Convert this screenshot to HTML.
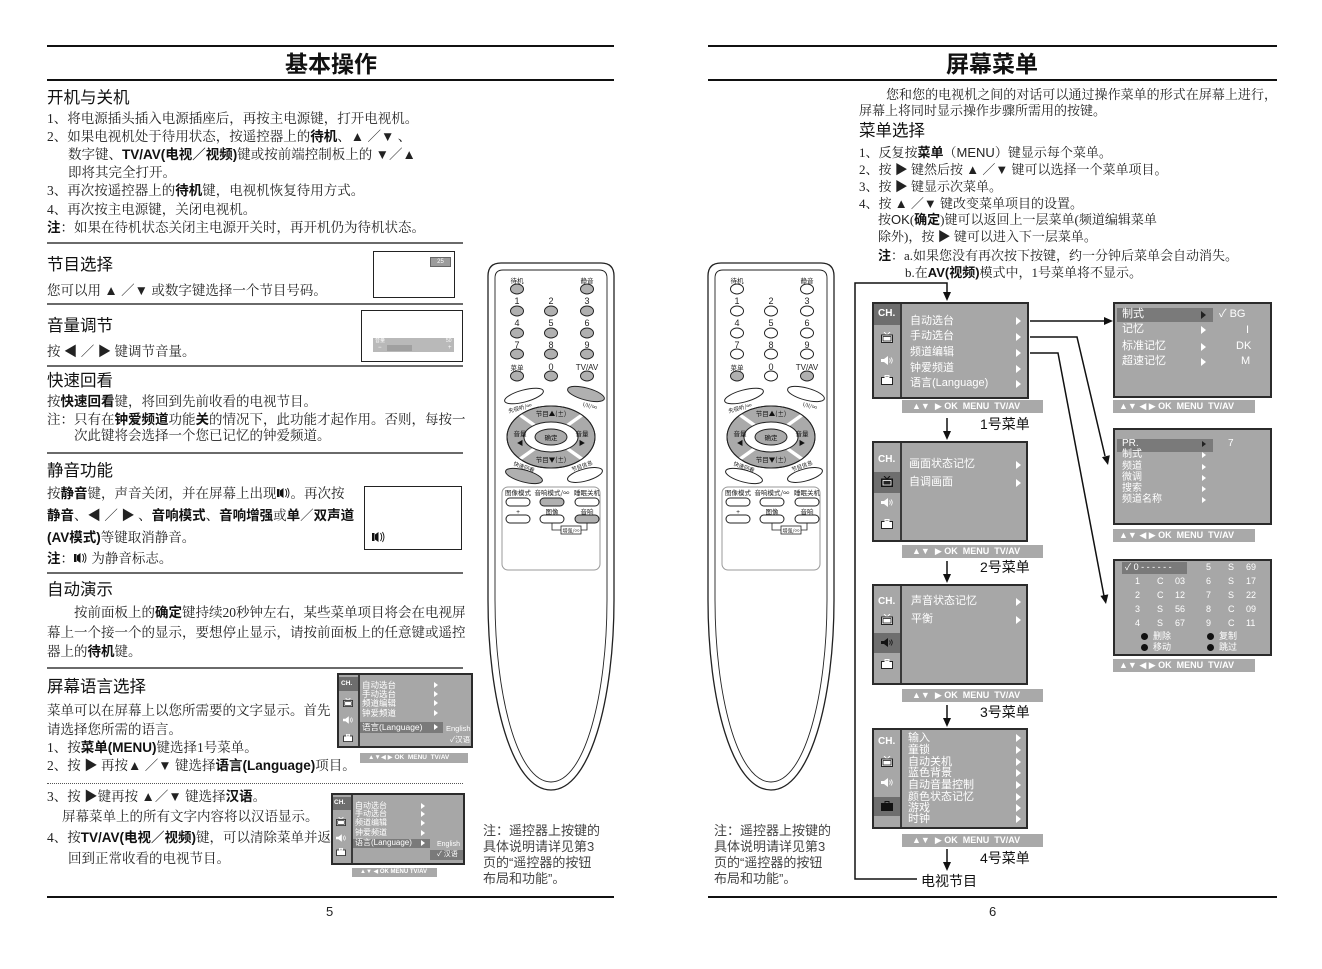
<!DOCTYPE html>
<html><head><meta charset="utf-8">
<style>
*{margin:0;padding:0}
body{width:1322px;height:969px;background:#fff;position:relative;overflow:hidden}
.a{position:absolute}
.s{position:absolute;white-space:nowrap;font-family:"Liberation Serif","Noto Serif CJK SC",serif;font-size:13.5px;line-height:16px;color:#222}
.r{font-size:13px}
.s b{font-family:"Liberation Sans","Noto Sans CJK SC",sans-serif;font-weight:bold;color:#111}
.ss{font-family:"Liberation Sans","Noto Sans CJK SC",sans-serif}
.h{position:absolute;white-space:nowrap;font-family:"Liberation Sans","Noto Sans CJK SC",sans-serif;font-size:16.5px;line-height:20px;color:#111}
.ti{position:absolute;white-space:nowrap;font-family:"Liberation Sans","Noto Sans CJK SC",sans-serif;font-size:23px;font-weight:bold;line-height:26px;color:#111}
.rule{position:absolute;height:2px;background:#111}
.sep{position:absolute;left:47px;width:416px;height:2px;background:#6a6a6a}
.j{text-align:justify;text-align-last:justify}
.nt{position:absolute;white-space:nowrap;font-family:"Liberation Sans","Noto Sans CJK SC",sans-serif;font-size:13px;line-height:16px;color:#444}
.mb{position:absolute;background:#a7a7a7;border:2px solid #2b2b2b;box-sizing:border-box}
.vl{position:absolute;width:2px;background:#3a3a3a}
.hl{position:absolute;background:#6e6e6e}
.hb{position:absolute;background:#7a7a7a}
.mt{position:absolute;color:#fff;font-family:"Liberation Sans","Noto Sans CJK SC",sans-serif;white-space:nowrap;line-height:1}
.ar{position:absolute;width:0;height:0;border-left:5px solid #fff;border-top:4px solid transparent;border-bottom:4px solid transparent}
.ar2{position:absolute;width:0;height:0;border-left:4px solid #fff;border-top:3px solid transparent;border-bottom:3px solid transparent}
.ft{position:absolute;background:#a9a9a9;color:#fff;font-family:"Liberation Sans","DejaVu Sans",sans-serif;font-weight:bold;white-space:nowrap;text-align:left}
.ch{position:absolute;color:#fff;font-family:"Liberation Sans",sans-serif;font-weight:bold;line-height:1}
.lbl{position:absolute;white-space:nowrap;font-family:"Liberation Sans","Noto Sans CJK SC",sans-serif;font-size:14px;line-height:16px;color:#111}
</style></head><body>

<!-- ================= LEFT PAGE ================= -->
<div class="rule" style="left:47px;top:45px;width:567px"></div>
<div class="ti" style="left:285px;top:51px">基本操作</div>
<div class="rule" style="left:47px;top:79px;width:567px"></div>

<div class="h" style="left:47px;top:88px">开机与关机</div>
<div class="s" style="left:47px;top:111px">1、将电源插头插入电源插座后，再按主电源键，打开电视机。</div>
<div class="s" style="left:47px;top:129px">2、如果电视机处于待用状态，按遥控器上的<b>待机</b>、▲ ／▼ 、</div>
<div class="s" style="left:68px;top:147px">数字键、<b>TV/AV(电视／视频)</b>键或按前端控制板上的 ▼／▲</div>
<div class="s" style="left:68px;top:165px">即将其完全打开。</div>
<div class="s" style="left:47px;top:183px">3、再次按遥控器上的<b>待机</b>键，电视机恢复待用方式。</div>
<div class="s" style="left:47px;top:202px">4、再次按主电源键，关闭电视机。</div>
<div class="s" style="left:47px;top:220px"><b>注</b>：如果在待机状态关闭主电源开关时，再开机仍为待机状态。</div>
<div class="sep" style="top:242px"></div>

<div class="h" style="left:47px;top:255px">节目选择</div>
<div class="s" style="left:47px;top:283px">您可以用 ▲ ／▼ 或数字键选择一个节目号码。</div>
<div class="a" style="left:373px;top:251px;width:80px;height:45px;border:1px solid #222"></div>
<div class="a" style="left:430px;top:257px;width:19px;height:8px;background:#9c9c9c;border:1px solid #666;color:#fff;font:6px 'Liberation Sans';text-align:center;line-height:8px">25</div>
<div class="sep" style="top:303px"></div>

<div class="h" style="left:47px;top:316px">音量调节</div>
<div class="s" style="left:47px;top:344px">按 ◀ ／ ▶ 键调节音量。</div>
<div class="a" style="left:361px;top:310px;width:100px;height:50px;border:1px solid #222"></div>
<div class="a" style="left:373px;top:338px;width:81px;height:14px;background:#b9b9b9"></div>
<div class="a" style="left:387px;top:345px;width:25px;height:6px;background:#a0a0a0"></div>
<div class="mt" style="left:375px;top:339px;font-size:5px">音量</div>
<div class="mt" style="left:446px;top:339px;font-size:5px">50</div>
<div class="mt" style="left:378px;top:345px;font-size:6px">−</div>
<div class="mt" style="left:448px;top:345px;font-size:6px">+</div>
<div class="sep" style="top:365px"></div>

<div class="h" style="left:47px;top:371px">快速回看</div>
<div class="s" style="left:47px;top:394px">按<b>快速回看</b>键，将回到先前收看的电视节目。</div>
<div class="s j" style="left:47px;top:412px;width:415px">注：只有在<b>钟爱频道</b>功能<b>关</b>的情况下，此功能才起作用。否则，每按一</div>
<div class="s" style="left:74px;top:428px">次此键将会选择一个您已记忆的钟爱频道。</div>
<div class="sep" style="top:452px"></div>

<div class="h" style="left:47px;top:461px">静音功能</div>
<div class="s" style="left:47px;top:486px">按<b>静音</b>键，声音关闭，并在屏幕上出现<svg width="14" height="12" viewBox="0 0 14 12" style="vertical-align:-1px"><rect x="0" y="2" width="2.5" height="8" fill="#111"/><path d="M3 3.5 L6.5 1 L6.5 11 L3 8.5Z" fill="#111"/><path d="M8.5 2 Q11 6 8.5 10 M10.5 1 Q13.5 6 10.5 11" stroke="#111" fill="none" stroke-width="0.9"/></svg>。再次按</div>
<div class="s" style="left:47px;top:508px"><b>静音</b>、◀ ／ ▶ 、<b>音响模式</b>、<b>音响增强</b>或<b>单</b>／<b>双声道</b></div>
<div class="s" style="left:47px;top:530px"><b>(AV模式)</b>等键取消静音。</div>
<div class="s" style="left:47px;top:551px"><b>注</b>：<svg width="14" height="12" viewBox="0 0 14 12" style="vertical-align:-1px"><rect x="0" y="2" width="2.5" height="8" fill="#111"/><path d="M3 3.5 L6.5 1 L6.5 11 L3 8.5Z" fill="#111"/><path d="M8.5 2 Q11 6 8.5 10 M10.5 1 Q13.5 6 10.5 11" stroke="#111" fill="none" stroke-width="0.9"/></svg> 为静音标志。</div>
<div class="a" style="left:364px;top:486px;width:96px;height:62px;border:1px solid #222"></div>
<svg class="a" style="left:372px;top:531px" width="14" height="12" viewBox="0 0 14 12"><rect x="0" y="2" width="2.5" height="8" fill="#111"/><path d="M3 3.5 L6.5 1 L6.5 11 L3 8.5Z" fill="#111"/><path d="M8.5 2 Q11 6 8.5 10 M10.5 1 Q13.5 6 10.5 11" stroke="#111" fill="none" stroke-width="0.9"/></svg>
<div class="sep" style="top:572px"></div>

<div class="h" style="left:47px;top:580px">自动演示</div>
<div class="s j" style="left:74px;top:605px;width:388px">按前面板上的<b>确定</b>键持续20秒钟左右，某些菜单项目将会在电视屏</div>
<div class="s j" style="left:47px;top:625px;width:415px">幕上一个接一个的显示，要想停止显示，请按前面板上的任意键或遥控</div>
<div class="s" style="left:47px;top:644px">器上的<b>待机</b>键。</div>
<div class="sep" style="top:667px"></div>

<div class="h" style="left:47px;top:677px">屏幕语言选择</div>
<div class="s" style="left:47px;top:703px">菜单可以在屏幕上以您所需要的文字显示。首先</div>
<div class="s" style="left:47px;top:722px">请选择您所需的语言。</div>
<div class="s" style="left:47px;top:740px">1、按<b>菜单(MENU)</b>键选择1号菜单。</div>
<div class="s" style="left:47px;top:758px">2、按 ▶ 再按▲ ／▼ 键选择<b>语言(Language)</b>项目。</div>
<div class="a" style="left:47px;top:783px;width:416px;border-top:1px dotted #555"></div>
<div class="s" style="left:47px;top:789px">3、按 ▶键再按 ▲／▼ 键选择<b>汉语</b>。</div>
<div class="s" style="left:62px;top:809px">屏幕菜单上的所有文字内容将以汉语显示。</div>
<div class="s" style="left:47px;top:830px">4、按<b>TV/AV(电视／视频)</b>键，可以清除菜单并返</div>
<div class="s" style="left:68px;top:851px">回到正常收看的电视节目。</div>

<!-- mini menu L1 -->
<div class="mb" style="left:337px;top:673px;width:136px;height:75px"></div>
<div class="hl" style="left:339px;top:677px;width:19px;height:14px"></div>
<div class="vl" style="left:358px;top:675px;height:71px"></div>
<div class="ch" style="left:341px;top:681px;font-size:6.5px">CH.</div>
<svg class="a" style="left:343px;top:698px" width="10" height="9" viewBox="0 0 12 11"><path d="M3 0 L6 3 L9 0" stroke="#fff" fill="none"/><rect x="0.5" y="3" width="11" height="7.5" fill="#fff" stroke="#222"/><rect x="2" y="4.5" width="8" height="4.5" fill="none" stroke="#222" stroke-width="0.8"/></svg>
<svg class="a" style="left:343px;top:716px" width="10" height="8" viewBox="0 0 12 9"><path d="M0 3h3l4-3v9l-4-3H0z" fill="#fff"/><path d="M8.5 2.5q1.5 2 0 4M10 1.5q2.5 3 0 6" stroke="#fff" fill="none" stroke-width="0.8"/></svg>
<svg class="a" style="left:343px;top:734px" width="10" height="8" viewBox="0 0 12 10"><rect x="0.5" y="2.5" width="11" height="7" fill="#fff" stroke="#222"/><rect x="4" y="0.5" width="4" height="2" fill="none" stroke="#fff"/></svg>
<div class="hb" style="left:360px;top:722px;width:83px;height:11px"></div>
<div class="mt" style="left:362px;top:681px;font-size:8.5px">自动选台</div>
<div class="mt" style="left:362px;top:690px;font-size:8.5px">手动选台</div>
<div class="mt" style="left:362px;top:699px;font-size:8.5px">频道编辑</div>
<div class="mt" style="left:362px;top:709px;font-size:8.5px">钟爱频道</div>
<div class="mt" style="left:362px;top:723px;font-size:8.5px">语言(Language)</div>
<div class="ar2" style="left:434px;top:682px"></div>
<div class="ar2" style="left:434px;top:691px"></div>
<div class="ar2" style="left:434px;top:700px"></div>
<div class="ar2" style="left:434px;top:710px"></div>
<div class="ar2" style="left:434px;top:724px"></div>
<div class="mt" style="left:446px;top:725px;font-size:7.5px">English</div>
<div class="mt" style="left:450px;top:736px;font-size:7.5px">✓汉语</div>
<div class="ft" style="left:360px;top:753px;width:108px;height:10px;font-size:6.5px;line-height:10px;padding-left:8px;box-sizing:border-box">▲▼◀ ▶ OK &nbsp;MENU &nbsp;TV/AV</div>

<!-- mini menu L2 -->
<div class="mb" style="left:331px;top:793px;width:134px;height:72px"></div>
<div class="hl" style="left:333px;top:797px;width:18px;height:13px"></div>
<div class="vl" style="left:351px;top:795px;height:68px"></div>
<div class="ch" style="left:334px;top:800px;font-size:6.5px">CH.</div>
<svg class="a" style="left:336px;top:817px" width="10" height="9" viewBox="0 0 12 11"><path d="M3 0 L6 3 L9 0" stroke="#fff" fill="none"/><rect x="0.5" y="3" width="11" height="7.5" fill="#fff" stroke="#222"/><rect x="2" y="4.5" width="8" height="4.5" fill="none" stroke="#222" stroke-width="0.8"/></svg>
<svg class="a" style="left:336px;top:834px" width="10" height="8" viewBox="0 0 12 9"><path d="M0 3h3l4-3v9l-4-3H0z" fill="#fff"/><path d="M8.5 2.5q1.5 2 0 4M10 1.5q2.5 3 0 6" stroke="#fff" fill="none" stroke-width="0.8"/></svg>
<svg class="a" style="left:336px;top:848px" width="10" height="8" viewBox="0 0 12 10"><rect x="0.5" y="2.5" width="11" height="7" fill="#fff" stroke="#222"/><rect x="4" y="0.5" width="4" height="2" fill="none" stroke="#fff"/></svg>
<div class="hb" style="left:353px;top:839px;width:77px;height:9px"></div>
<div class="mt" style="left:355px;top:802px;font-size:8px">自动选台</div>
<div class="mt" style="left:355px;top:810px;font-size:8px">手动选台</div>
<div class="mt" style="left:355px;top:819px;font-size:8px">频道编辑</div>
<div class="mt" style="left:355px;top:829px;font-size:8px">钟爱频道</div>
<div class="mt" style="left:355px;top:839px;font-size:8px">语言(Language)</div>
<div class="ar2" style="left:421px;top:803px"></div>
<div class="ar2" style="left:421px;top:811px"></div>
<div class="ar2" style="left:421px;top:820px"></div>
<div class="ar2" style="left:421px;top:830px"></div>
<div class="ar2" style="left:421px;top:840px"></div>
<div class="mt" style="left:437px;top:841px;font-size:7px">English</div>
<div class="hb" style="left:430px;top:850px;width:33px;height:10px"></div>
<div class="mt" style="left:437px;top:851px;font-size:7px">✓ 汉语</div>
<div class="ft" style="left:352px;top:868px;width:85px;height:9px;font-size:6px;line-height:9px;padding-left:8px;box-sizing:border-box">▲▼ ◀ OK MENU TV/AV</div>

<div class="nt" style="left:483px;top:823px">注：遥控器上按键的</div>
<div class="nt" style="left:483px;top:839px">具体说明请详见第3</div>
<div class="nt" style="left:483px;top:855px">页的“遥控器的按钮</div>
<div class="nt" style="left:483px;top:871px">布局和功能”。</div>

<div class="rule" style="left:47px;top:896px;width:567px"></div>
<div class="a" style="left:326px;top:904px;font:13px 'Liberation Sans',sans-serif;color:#222">5</div>

<!-- ================= RIGHT PAGE ================= -->
<div class="rule" style="left:708px;top:45px;width:569px"></div>
<div class="ti" style="left:946px;top:51px">屏幕菜单</div>
<div class="rule" style="left:708px;top:79px;width:569px"></div>

<div class="s r j" style="left:886px;top:87px;width:391px">您和您的电视机之间的对话可以通过操作菜单的形式在屏幕上进行，</div>
<div class="s r" style="left:859px;top:103px">屏幕上将同时显示操作步骤所需用的按键。</div>
<div class="h" style="left:859px;top:121px">菜单选择</div>
<div class="s r" style="left:859px;top:145px">1、反复按<b>菜单</b>（<span class="ss">MENU</span>）键显示每个菜单。</div>
<div class="s r" style="left:859px;top:162px">2、按 ▶ 键然后按 ▲ ／▼ 键可以选择一个菜单项目。</div>
<div class="s r" style="left:859px;top:179px">3、按 ▶ 键显示次菜单。</div>
<div class="s r" style="left:859px;top:196px">4、按 ▲ ／▼ 键改变菜单项目的设置。</div>
<div class="s r" style="left:878px;top:212px">按<span class="ss">OK</span>(<b>确定</b>)键可以返回上一层菜单(频道编辑菜单</div>
<div class="s r" style="left:878px;top:229px">除外)，按 ▶ 键可以进入下一层菜单。</div>
<div class="s r" style="left:878px;top:248px"><b>注</b>：a.如果您没有再次按下按键，约一分钟后菜单会自动消失。</div>
<div class="s r" style="left:905px;top:265px">b.在<b>AV(视频)</b>模式中，1号菜单将不显示。</div>

<!-- SVG: remotes + connectors -->
<svg class="a" style="left:0;top:0" width="1322" height="969" viewBox="0 0 1322 969">
<defs>
<g id="remBase">
 <path d="M488 276 Q488 263 501 263 L601 263 Q614 263 614 276 L614 600 C614 700 590 790 551 790 C512 790 488 700 488 600 Z" fill="#fff" stroke="#222" stroke-width="1.3"/>
 <path d="M495 278 Q495 270 503 270 L599 270 Q607 270 607 278 L607 600 C607 694 585 782 551 782 C517 782 495 694 495 600 Z" fill="none" stroke="#222" stroke-width="0.9"/>
 <rect x="502" y="487" width="98" height="83" rx="6" fill="none" stroke="#999" stroke-width="1"/>
 <g font-family="Noto Sans CJK SC, sans-serif" font-size="6.5" text-anchor="middle" fill="#222">
  <text x="517" y="283">待机</text><text x="587" y="283">静音</text>
  <text x="517" y="370">菜单</text>
  <text x="518" y="495">图像模式</text><text x="552" y="495">音响模式/∞</text><text x="587" y="495">睡眠关机</text>
  <text x="518" y="514">+</text><text x="552" y="514">图像</text><text x="587" y="514">音响</text>
 </g>
 <g font-family="Liberation Sans, sans-serif" font-size="9" text-anchor="middle" fill="#222">
  <text x="517" y="304">1</text><text x="551" y="304">2</text><text x="587" y="304">3</text>
  <text x="517" y="326">4</text><text x="551" y="326">5</text><text x="587" y="326">6</text>
  <text x="517" y="348">7</text><text x="551" y="348">8</text><text x="587" y="348">9</text>
  <text x="551" y="370">0</text><text x="587" y="370" font-size="8">TV/AV</text>
 </g>
 <!-- nav -->
 <ellipse cx="551" cy="437" rx="44" ry="31" fill="#aaa" stroke="#222" stroke-width="1"/>
 <g stroke="#fff" stroke-width="3.5">
  <line x1="551" y1="437" x2="520" y2="415"/><line x1="551" y1="437" x2="582" y2="415"/>
  <line x1="551" y1="437" x2="520" y2="459"/><line x1="551" y1="437" x2="582" y2="459"/>
 </g>
 <ellipse cx="551" cy="437" rx="44" ry="31" fill="none" stroke="#222" stroke-width="1"/>
 <ellipse cx="551" cy="437" rx="27" ry="15" fill="#fff" stroke="#222" stroke-width="1"/>
 <ellipse cx="551" cy="437" rx="16" ry="8" fill="#aaa" stroke="#222" stroke-width="1"/>
 <g font-family="Noto Sans CJK SC, sans-serif" font-size="6.5" text-anchor="middle" fill="#111">
  <text x="551" y="416">节目▲(±)</text>
  <text x="551" y="440">确定</text>
  <text x="551" y="462">节目▼(±)</text>
  <text x="520" y="436">音量</text><text x="520" y="445">◀</text>
  <text x="582" y="436">音量</text><text x="582" y="445">▶</text>
 </g>
 <g font-family="Noto Sans CJK SC, sans-serif" font-size="5.5" text-anchor="middle" fill="#222">
  <text x="520" y="410" transform="rotate(-15 520 408)">先视听/∞</text>
  <text x="590" y="408" transform="rotate(15 590 406)">I/II/∞</text>
  <text x="524" y="469" transform="rotate(20 524 467)">快速回看</text>
  <text x="582" y="468" transform="rotate(-20 582 466)">节目信息</text>
 </g>
 <path d="M552 523 V530 H587 V523" fill="none" stroke="#222" stroke-width="0.8"/>
 <rect x="561" y="526" width="20" height="8" fill="#fff" stroke="#222" stroke-width="0.8"/>
 <text x="571" y="532.5" font-family="Noto Sans CJK SC, sans-serif" font-size="5" text-anchor="middle" fill="#222">增强/∞</text>
</g>
</defs>

<!-- left remote -->
<use href="#remBase"/>
<g fill="#b0b0b0" stroke="#222" stroke-width="1">
 <ellipse cx="517" cy="289" rx="6.5" ry="5"/><ellipse cx="587" cy="289" rx="6.5" ry="5"/>
 <ellipse cx="517" cy="311" rx="6.5" ry="5"/><ellipse cx="551" cy="311" rx="6.5" ry="5"/><ellipse cx="587" cy="311" rx="6.5" ry="5"/>
 <ellipse cx="517" cy="333" rx="6.5" ry="5"/><ellipse cx="551" cy="333" rx="6.5" ry="5"/><ellipse cx="587" cy="333" rx="6.5" ry="5"/>
 <ellipse cx="517" cy="354" rx="6.5" ry="5"/><ellipse cx="551" cy="354" rx="6.5" ry="5"/><ellipse cx="587" cy="354" rx="6.5" ry="5"/>
 <ellipse cx="517" cy="376" rx="6.5" ry="5"/><ellipse cx="551" cy="376" rx="6.5" ry="5"/><ellipse cx="587" cy="376" rx="6.5" ry="5"/>
 <ellipse cx="586" cy="394" rx="19" ry="6" transform="rotate(15 586 394)"/>
 <ellipse cx="524" cy="476" rx="19" ry="6" transform="rotate(15 524 476)"/>
 <rect x="540" y="498" width="24" height="8" rx="4"/>
 <rect x="575" y="515" width="24" height="8" rx="4"/>
</g>
<g fill="#fff" stroke="#222" stroke-width="1">
 <ellipse cx="524" cy="396" rx="20" ry="6" transform="rotate(-15 524 396)"/>
 <ellipse cx="585" cy="475" rx="18" ry="6" transform="rotate(-15 585 475)"/>
 <rect x="506" y="498" width="24" height="8" rx="4"/><rect x="575" y="498" width="24" height="8" rx="4"/>
 <rect x="506" y="515" width="24" height="8" rx="4"/><rect x="540" y="515" width="24" height="8" rx="4"/>
</g>

<!-- right remote -->
<g transform="translate(220,0)">
<use href="#remBase"/>
<g fill="#fff" stroke="#222" stroke-width="1">
 <ellipse cx="517" cy="289" rx="6.5" ry="5"/><ellipse cx="587" cy="289" rx="6.5" ry="5"/>
 <ellipse cx="517" cy="311" rx="6.5" ry="5"/><ellipse cx="551" cy="311" rx="6.5" ry="5"/><ellipse cx="587" cy="311" rx="6.5" ry="5"/>
 <ellipse cx="517" cy="333" rx="6.5" ry="5"/><ellipse cx="551" cy="333" rx="6.5" ry="5"/><ellipse cx="587" cy="333" rx="6.5" ry="5"/>
 <ellipse cx="517" cy="354" rx="6.5" ry="5"/><ellipse cx="551" cy="354" rx="6.5" ry="5"/><ellipse cx="587" cy="354" rx="6.5" ry="5"/>
 <ellipse cx="551" cy="376" rx="6.5" ry="5"/>
 <ellipse cx="524" cy="396" rx="20" ry="6" transform="rotate(-15 524 396)"/>
 <ellipse cx="586" cy="394" rx="19" ry="6" transform="rotate(15 586 394)"/>
 <ellipse cx="524" cy="476" rx="19" ry="6" transform="rotate(15 524 476)"/>
 <ellipse cx="585" cy="475" rx="18" ry="6" transform="rotate(-15 585 475)"/>
 <rect x="506" y="498" width="24" height="8" rx="4"/><rect x="540" y="498" width="24" height="8" rx="4"/><rect x="575" y="498" width="24" height="8" rx="4"/>
 <rect x="506" y="515" width="24" height="8" rx="4"/><rect x="540" y="515" width="24" height="8" rx="4"/><rect x="575" y="515" width="24" height="8" rx="4"/>
</g>
<g fill="#b0b0b0" stroke="#222" stroke-width="1">
 <ellipse cx="517" cy="376" rx="6.5" ry="5"/><ellipse cx="587" cy="376" rx="6.5" ry="5"/>
</g>
</g>

<!-- connectors right page -->
<g stroke="#111" stroke-width="1.5" fill="none">
 <path d="M917 879 L855 879 L855 283 L947 283 L947 293"/>
 <line x1="947" y1="418" x2="947" y2="432"/>
 <line x1="947" y1="561" x2="947" y2="575"/>
 <line x1="947" y1="705" x2="947" y2="719"/>
 <line x1="947" y1="849" x2="947" y2="863"/>
 <line x1="1030" y1="321" x2="1104" y2="321"/>
 <polyline points="1030,337 1077,337 1105,456"/>
 <polyline points="1030,353 1058,353 1104,596"/>
</g>
<g fill="#111">
 <polygon points="943,292 951,292 947,301"/>
 <polygon points="943,431 951,431 947,440"/>
 <polygon points="943,574 951,574 947,583"/>
 <polygon points="943,718 951,718 947,727"/>
 <polygon points="943,862 951,862 947,871"/>
 <polygon points="1104,317 1104,325 1113,321"/>
 <polygon points="1109.8,455.3 1102,457.1 1108,465"/>
 <polygon points="1108.3,594.4 1100.4,595.9 1106,604"/>
</g>
</svg>

<!-- Menu 1 -->
<div class="mb" style="left:872px;top:302px;width:157px;height:97px"></div>
<div class="hl" style="left:874px;top:304px;width:26px;height:21px"></div>
<div class="vl" style="left:900px;top:304px;height:93px"></div>
<div class="ch" style="left:878px;top:309px;font-size:10px">CH.</div>
<svg class="a" style="left:881px;top:332px" width="12" height="11" viewBox="0 0 12 11"><path d="M3 0 L6 3 L9 0" stroke="#fff" fill="none"/><rect x="0.5" y="3" width="11" height="7.5" fill="#fff" stroke="#222"/><rect x="2" y="4.5" width="8" height="4.5" fill="none" stroke="#222" stroke-width="0.8"/></svg>
<svg class="a" style="left:881px;top:356px" width="12" height="9" viewBox="0 0 12 9"><path d="M0 3h3l4-3v9l-4-3H0z" fill="#fff"/><path d="M8.5 2.5q1.5 2 0 4M10 1.5q2.5 3 0 6" stroke="#fff" fill="none" stroke-width="0.8"/></svg>
<svg class="a" style="left:881px;top:375px" width="12" height="10" viewBox="0 0 12 10"><rect x="0.5" y="2.5" width="11" height="7" fill="#fff" stroke="#222"/><rect x="4" y="0.5" width="4" height="2" fill="none" stroke="#fff"/></svg>
<div class="mt" style="left:910px;top:316px;font-size:11px">自动选台</div>
<div class="mt" style="left:910px;top:331px;font-size:11px">手动选台</div>
<div class="mt" style="left:910px;top:347px;font-size:11px">频道编辑</div>
<div class="mt" style="left:910px;top:363px;font-size:11px">钟爱频道</div>
<div class="mt" style="left:910px;top:378px;font-size:11px">语言(Language)</div>
<div class="ar" style="left:1016px;top:317px"></div>
<div class="ar" style="left:1016px;top:333px"></div>
<div class="ar" style="left:1016px;top:349px"></div>
<div class="ar" style="left:1016px;top:365px"></div>
<div class="ar" style="left:1016px;top:380px"></div>
<div class="ft" style="left:902px;top:400px;width:141px;height:13px;font-size:9px;line-height:13px;padding-left:10px;box-sizing:border-box">▲▼ &nbsp;▶ OK &nbsp;MENU &nbsp;TV/AV</div>
<div class="lbl" style="left:980px;top:416px">1号菜单</div>

<!-- Menu 2 -->
<div class="mb" style="left:872px;top:441px;width:156px;height:101px"></div>
<div class="hl" style="left:874px;top:472px;width:26px;height:21px"></div>
<div class="vl" style="left:900px;top:443px;height:97px"></div>
<div class="ch" style="left:878px;top:455px;font-size:10px">CH.</div>
<svg class="a" style="left:881px;top:476px" width="12" height="11" viewBox="0 0 12 11"><path d="M3 0 L6 3 L9 0" stroke="#111" fill="none"/><rect x="0.5" y="3" width="11" height="7.5" fill="#222" stroke="#111"/><rect x="2" y="4.5" width="8" height="4.5" fill="none" stroke="#fff" stroke-width="0.8"/></svg>
<svg class="a" style="left:881px;top:498px" width="12" height="9" viewBox="0 0 12 9"><path d="M0 3h3l4-3v9l-4-3H0z" fill="#fff"/><path d="M8.5 2.5q1.5 2 0 4M10 1.5q2.5 3 0 6" stroke="#fff" fill="none" stroke-width="0.8"/></svg>
<svg class="a" style="left:881px;top:519px" width="12" height="10" viewBox="0 0 12 10"><rect x="0.5" y="2.5" width="11" height="7" fill="#fff" stroke="#222"/><rect x="4" y="0.5" width="4" height="2" fill="none" stroke="#fff"/></svg>
<div class="mt" style="left:909px;top:459px;font-size:11px">画面状态记忆</div>
<div class="mt" style="left:909px;top:477px;font-size:11px">自调画面</div>
<div class="ar" style="left:1016px;top:461px"></div>
<div class="ar" style="left:1016px;top:479px"></div>
<div class="ft" style="left:902px;top:545px;width:141px;height:13px;font-size:9px;line-height:13px;padding-left:10px;box-sizing:border-box">▲▼ &nbsp;▶ OK &nbsp;MENU &nbsp;TV/AV</div>
<div class="lbl" style="left:980px;top:559px">2号菜单</div>

<!-- Menu 3 -->
<div class="mb" style="left:872px;top:584px;width:156px;height:101px"></div>
<div class="hl" style="left:874px;top:633px;width:26px;height:20px"></div>
<div class="vl" style="left:900px;top:586px;height:97px"></div>
<div class="ch" style="left:878px;top:597px;font-size:10px">CH.</div>
<svg class="a" style="left:881px;top:614px" width="12" height="11" viewBox="0 0 12 11"><path d="M3 0 L6 3 L9 0" stroke="#fff" fill="none"/><rect x="0.5" y="3" width="11" height="7.5" fill="#fff" stroke="#222"/><rect x="2" y="4.5" width="8" height="4.5" fill="none" stroke="#222" stroke-width="0.8"/></svg>
<svg class="a" style="left:881px;top:638px" width="12" height="9" viewBox="0 0 12 9"><path d="M0 3h3l4-3v9l-4-3H0z" fill="#111"/><path d="M8.5 2.5q1.5 2 0 4M10 1.5q2.5 3 0 6" stroke="#111" fill="none" stroke-width="0.8"/></svg>
<svg class="a" style="left:881px;top:659px" width="12" height="10" viewBox="0 0 12 10"><rect x="0.5" y="2.5" width="11" height="7" fill="#fff" stroke="#222"/><rect x="4" y="0.5" width="4" height="2" fill="none" stroke="#fff"/></svg>
<div class="mt" style="left:911px;top:596px;font-size:11px">声音状态记忆</div>
<div class="mt" style="left:911px;top:614px;font-size:11px">平衡</div>
<div class="ar" style="left:1016px;top:598px"></div>
<div class="ar" style="left:1016px;top:616px"></div>
<div class="ft" style="left:902px;top:689px;width:141px;height:13px;font-size:9px;line-height:13px;padding-left:10px;box-sizing:border-box">▲▼ &nbsp;▶ OK &nbsp;MENU &nbsp;TV/AV</div>
<div class="lbl" style="left:980px;top:704px">3号菜单</div>

<!-- Menu 4 -->
<div class="mb" style="left:872px;top:728px;width:156px;height:101px"></div>
<div class="hl" style="left:874px;top:797px;width:26px;height:19px"></div>
<div class="vl" style="left:900px;top:730px;height:97px"></div>
<div class="ch" style="left:878px;top:737px;font-size:10px">CH.</div>
<svg class="a" style="left:881px;top:756px" width="12" height="11" viewBox="0 0 12 11"><path d="M3 0 L6 3 L9 0" stroke="#fff" fill="none"/><rect x="0.5" y="3" width="11" height="7.5" fill="#fff" stroke="#222"/><rect x="2" y="4.5" width="8" height="4.5" fill="none" stroke="#222" stroke-width="0.8"/></svg>
<svg class="a" style="left:881px;top:778px" width="12" height="9" viewBox="0 0 12 9"><path d="M0 3h3l4-3v9l-4-3H0z" fill="#fff"/><path d="M8.5 2.5q1.5 2 0 4M10 1.5q2.5 3 0 6" stroke="#fff" fill="none" stroke-width="0.8"/></svg>
<svg class="a" style="left:881px;top:801px" width="12" height="10" viewBox="0 0 12 10"><rect x="0.5" y="2.5" width="11" height="7" fill="#111" stroke="#111"/><rect x="4" y="0.5" width="4" height="2" fill="none" stroke="#111"/></svg>
<div class="mt" style="left:908px;top:733px;font-size:11px">输入</div>
<div class="mt" style="left:908px;top:745px;font-size:11px">童锁</div>
<div class="mt" style="left:908px;top:757px;font-size:11px">自动关机</div>
<div class="mt" style="left:908px;top:768px;font-size:11px">蓝色背景</div>
<div class="mt" style="left:908px;top:780px;font-size:11px">自动音量控制</div>
<div class="mt" style="left:908px;top:792px;font-size:11px">颜色状态记忆</div>
<div class="mt" style="left:908px;top:803px;font-size:11px">游戏</div>
<div class="mt" style="left:908px;top:814px;font-size:11px">时钟</div>
<div class="ar" style="left:1016px;top:734px"></div>
<div class="ar" style="left:1016px;top:746px"></div>
<div class="ar" style="left:1016px;top:758px"></div>
<div class="ar" style="left:1016px;top:769px"></div>
<div class="ar" style="left:1016px;top:781px"></div>
<div class="ar" style="left:1016px;top:793px"></div>
<div class="ar" style="left:1016px;top:804px"></div>
<div class="ar" style="left:1016px;top:815px"></div>
<div class="ft" style="left:902px;top:834px;width:141px;height:13px;font-size:9px;line-height:13px;padding-left:10px;box-sizing:border-box">▲▼ &nbsp;▶ OK &nbsp;MENU &nbsp;TV/AV</div>
<div class="lbl" style="left:980px;top:850px">4号菜单</div>
<div class="lbl" style="left:921px;top:873px">电视节目</div>

<!-- Submenu A -->
<div class="mb" style="left:1113px;top:302px;width:159px;height:96px"></div>
<div class="hb" style="left:1117px;top:308px;width:96px;height:14px"></div>
<div class="mt" style="left:1122px;top:309px;font-size:11px">制式</div>
<div class="mt" style="left:1122px;top:324px;font-size:11px">记忆</div>
<div class="mt" style="left:1122px;top:341px;font-size:11px">标准记忆</div>
<div class="mt" style="left:1122px;top:356px;font-size:11px">超速记忆</div>
<div class="ar" style="left:1201px;top:311px;border-left-color:#222"></div>
<div class="ar" style="left:1201px;top:326px"></div>
<div class="ar" style="left:1201px;top:343px"></div>
<div class="ar" style="left:1201px;top:358px"></div>
<div class="mt" style="left:1219px;top:309px;font-size:11px">✓ BG</div>
<div class="mt" style="left:1246px;top:325px;font-size:11px">I</div>
<div class="mt" style="left:1236px;top:341px;font-size:11px">DK</div>
<div class="mt" style="left:1241px;top:356px;font-size:11px">M</div>
<div class="ft" style="left:1113px;top:400px;width:142px;height:13px;font-size:9px;line-height:13px;padding-left:6px;box-sizing:border-box">▲▼ ◀ ▶ OK &nbsp;MENU &nbsp;TV/AV</div>

<!-- Submenu B -->
<div class="mb" style="left:1113px;top:428px;width:159px;height:97px"></div>
<div class="hb" style="left:1117px;top:439px;width:96px;height:13px"></div>
<div class="mt" style="left:1122px;top:439px;font-size:10px">PR.</div>
<div class="mt" style="left:1122px;top:450px;font-size:10px">制式</div>
<div class="mt" style="left:1122px;top:462px;font-size:10px">频道</div>
<div class="mt" style="left:1122px;top:473px;font-size:10px">微调</div>
<div class="mt" style="left:1122px;top:484px;font-size:10px">搜索</div>
<div class="mt" style="left:1122px;top:495px;font-size:10px">频道名称</div>
<div class="ar2" style="left:1202px;top:441px;border-left-color:#222"></div>
<div class="ar2" style="left:1202px;top:452px"></div>
<div class="ar2" style="left:1202px;top:464px"></div>
<div class="ar2" style="left:1202px;top:475px"></div>
<div class="ar2" style="left:1202px;top:486px"></div>
<div class="ar2" style="left:1202px;top:497px"></div>
<div class="mt" style="left:1228px;top:439px;font-size:10px">7</div>
<div class="ft" style="left:1113px;top:529px;width:142px;height:13px;font-size:9px;line-height:13px;padding-left:6px;box-sizing:border-box">▲▼ ◀ ▶ OK &nbsp;MENU &nbsp;TV/AV</div>

<!-- Submenu C -->
<div class="mb" style="left:1113px;top:559px;width:159px;height:97px"></div>
<div class="hb" style="left:1122px;top:562px;width:65px;height:12px"></div>
<div class="mt" style="left:1125px;top:563px;font-size:9px">✓ 0 - - - - - -</div>
<div class="mt" style="left:1206px;top:563px;font-size:9px">5</div><div class="mt" style="left:1228px;top:563px;font-size:9px">S</div><div class="mt" style="left:1246px;top:563px;font-size:9px">69</div>
<div class="mt" style="left:1135px;top:577px;font-size:9px">1</div><div class="mt" style="left:1157px;top:577px;font-size:9px">C</div><div class="mt" style="left:1175px;top:577px;font-size:9px">03</div>
<div class="mt" style="left:1206px;top:577px;font-size:9px">6</div><div class="mt" style="left:1228px;top:577px;font-size:9px">S</div><div class="mt" style="left:1246px;top:577px;font-size:9px">17</div>
<div class="mt" style="left:1135px;top:591px;font-size:9px">2</div><div class="mt" style="left:1157px;top:591px;font-size:9px">C</div><div class="mt" style="left:1175px;top:591px;font-size:9px">12</div>
<div class="mt" style="left:1206px;top:591px;font-size:9px">7</div><div class="mt" style="left:1228px;top:591px;font-size:9px">S</div><div class="mt" style="left:1246px;top:591px;font-size:9px">22</div>
<div class="mt" style="left:1135px;top:605px;font-size:9px">3</div><div class="mt" style="left:1157px;top:605px;font-size:9px">S</div><div class="mt" style="left:1175px;top:605px;font-size:9px">56</div>
<div class="mt" style="left:1206px;top:605px;font-size:9px">8</div><div class="mt" style="left:1228px;top:605px;font-size:9px">C</div><div class="mt" style="left:1246px;top:605px;font-size:9px">09</div>
<div class="mt" style="left:1135px;top:619px;font-size:9px">4</div><div class="mt" style="left:1157px;top:619px;font-size:9px">S</div><div class="mt" style="left:1175px;top:619px;font-size:9px">67</div>
<div class="mt" style="left:1206px;top:619px;font-size:9px">9</div><div class="mt" style="left:1228px;top:619px;font-size:9px">C</div><div class="mt" style="left:1246px;top:619px;font-size:9px">11</div>
<div class="a" style="left:1141px;top:633px;width:7px;height:7px;border-radius:50%;background:#111"></div>
<div class="a" style="left:1141px;top:644px;width:7px;height:7px;border-radius:50%;background:#111"></div>
<div class="a" style="left:1207px;top:633px;width:7px;height:7px;border-radius:50%;background:#111"></div>
<div class="a" style="left:1207px;top:644px;width:7px;height:7px;border-radius:50%;background:#111"></div>
<div class="mt" style="left:1153px;top:632px;font-size:9px">删除</div>
<div class="mt" style="left:1153px;top:643px;font-size:9px">移动</div>
<div class="mt" style="left:1219px;top:632px;font-size:9px">复制</div>
<div class="mt" style="left:1219px;top:643px;font-size:9px">跳过</div>
<div class="ft" style="left:1113px;top:659px;width:142px;height:13px;font-size:9px;line-height:13px;padding-left:6px;box-sizing:border-box">▲▼ ◀ ▶ OK &nbsp;MENU &nbsp;TV/AV</div>

<div class="nt" style="left:714px;top:823px">注：遥控器上按键的</div>
<div class="nt" style="left:714px;top:839px">具体说明请详见第3</div>
<div class="nt" style="left:714px;top:855px">页的“遥控器的按钮</div>
<div class="nt" style="left:714px;top:871px">布局和功能”。</div>

<div class="rule" style="left:708px;top:896px;width:569px"></div>
<div class="a" style="left:989px;top:904px;font:13px 'Liberation Sans',sans-serif;color:#222">6</div>

</body></html>
